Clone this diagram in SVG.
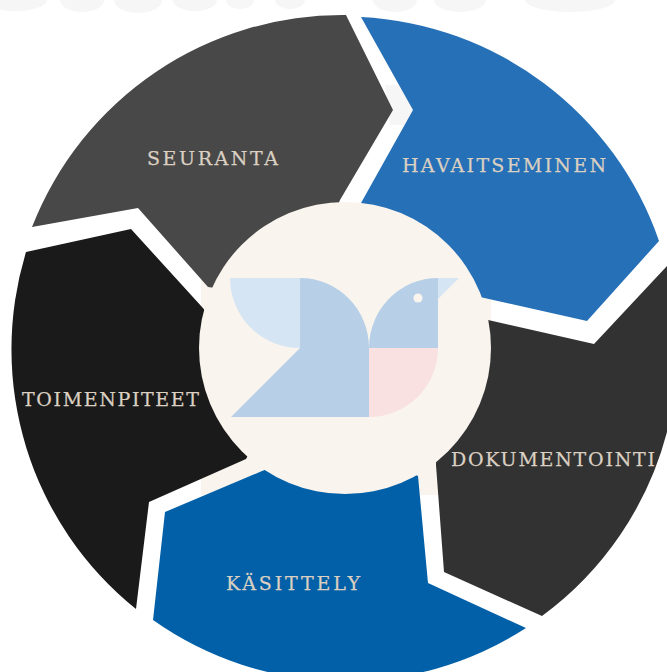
<svg xmlns="http://www.w3.org/2000/svg" width="667" height="672" viewBox="0 0 667 672">
<style>
text{font-family:"DejaVu Serif","Liberation Serif",serif;font-size:19px;fill:#dbd0c2;stroke:#dbd0c2;stroke-width:.25}
.w{fill:#f6f6f6}
</style>
<rect width="667" height="672" fill="#fff"/>
<g id="background">
<ellipse class="w" cx="15" cy="0" rx="32" ry="11"/>
<ellipse class="w" cx="82" cy="0" rx="22" ry="12"/>
<ellipse class="w" cx="138" cy="0" rx="24" ry="13"/>
<ellipse class="w" cx="195" cy="0" rx="22" ry="11"/>
<ellipse class="w" cx="240" cy="0" rx="14" ry="9"/>
<ellipse class="w" cx="290" cy="0" rx="15" ry="9"/>
<ellipse class="w" cx="395" cy="0" rx="22" ry="12"/>
<ellipse class="w" cx="460" cy="0" rx="26" ry="12"/>
<ellipse class="w" cx="570" cy="0" rx="45" ry="12"/>
<path class="w" d="M385 85H405L415 110L405 125H390Z"/>
<rect x="201" y="203" width="290" height="292" fill="#f9f4ee"/>
</g>
<g id="seuranta">
<path d="M32 227A333 333 0 0 1 346 15L393 110L340 200L300 300L208 287L138 208Z" fill="#484848"/>
<text x="147" y="165" textLength="131" lengthAdjust="spacing">SEURANTA</text>
</g>
<g id="havaitseminen">
<path d="M361 17A333 333 0 0 1 659 241L587 321L440 288L361 203L413 110Z" fill="#2670b8"/>
<text x="402" y="172" textLength="204" lengthAdjust="spacing">HAVAITSEMINEN</text>
</g>
<g id="dokumentointi">
<path d="M594 344L667 266V432A333 333 0 0 1 542 616L444 572L436 465L440 309Z" fill="#323232"/>
<text x="451" y="466" textLength="204" lengthAdjust="spacing">DOKUMENTOINTI</text>
</g>
<g id="kasittely">
<path d="M165 512L262 471L345 440L418 476L428 583L526 628A333 333 0 0 1 153 620Z" fill="#0260a8"/>
<text x="226" y="590" textLength="134" lengthAdjust="spacing">KÄSITTELY</text>
</g>
<g id="toimenpiteet">
<path d="M26 252L131 229L202 307L280 400L246 459L149 502L136 609A333 333 0 0 1 26 252Z" fill="#1a1a1a"/>
<text x="22" y="406" textLength="177" lengthAdjust="spacing">TOIMENPITEET</text>
</g>
<g id="center">
<circle cx="345" cy="348" r="146" fill="#f9f4ee"/>
<path d="M230 278H300V348A70 70 0 0 1 230 278Z" fill="#d6e5f4"/>
<path d="M300 278A69 70 0 0 1 369 348V417H231L300 348Z" fill="#b8d0e7"/>
<path d="M369 348A69 70 0 0 1 438 278V348Z" fill="#b8d0e7"/>
<path d="M438 278H459L438 299Z" fill="#d6e5f4"/>
<path d="M369 348H438A69 69 0 0 1 369 417Z" fill="#f9e1e1"/>
<circle cx="418" cy="298" r="4.5" fill="#f9f4ee"/>
</g>
<g id="connectors"/>
</svg>
